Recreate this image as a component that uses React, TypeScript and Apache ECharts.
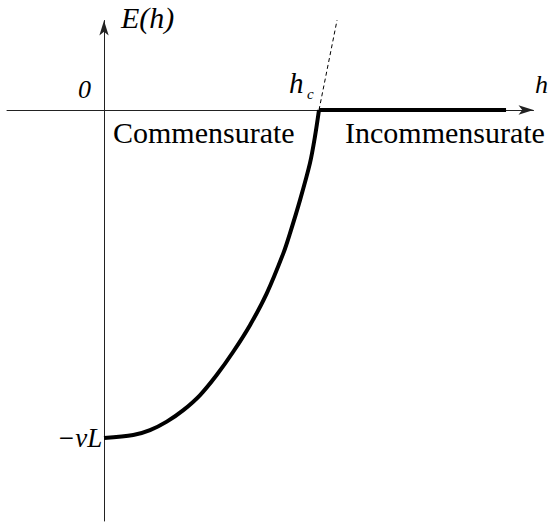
import React, { useEffect, useRef } from "react";
import * as echarts from "echarts";

// E(h) on the commensurate side: rises from -vL at h = 0 to zero at h = hc (= 1)
const commH = [0, 0.136, 0.214, 0.292, 0.369, 0.447, 0.524, 0.601, 0.679, 0.757, 0.834, 0.865, 0.912, 0.958, 0.981, 1.0];
const commE = [-1, -0.991, -0.976, -0.95, -0.915, -0.869, -0.808, -0.737, -0.656, -0.559, -0.437, -0.376, -0.274, -0.162, -0.082, 0];

// Incommensurate side: E(h) = 0 beyond hc
const incommH = [1, 1.87];
const incommE = [0, 0];

// Continuation of the commensurate branch past hc (dashed)
const tangentH = [1, 1.084];
const tangentE = [0, 0.274];

const pairs = (xs: number[], ys: number[]) => xs.map((x, i) => [x, ys[i]]);

const SERIF = "'Liberation Serif', 'Times New Roman', serif";

const label = (text: string, x: number, y: number, size: number, italic = true) => ({
  type: "text",
  x,
  y,
  style: {
    text,
    font: `${italic ? "italic " : ""}${size}px ${SERIF}`,
    fill: "#000",
    textVerticalAlign: "middle",
  },
});

export default function App() {
  const ref = useRef<HTMLDivElement>(null);

  useEffect(() => {
    document.body.style.margin = "0";
    if (!ref.current) return;
    const chart = echarts.init(ref.current, null, { renderer: "svg" });

    const axisLine = {
      onZero: true,
      symbol: ["none", "arrow"],
      symbolSize: [7, 15],
      lineStyle: { color: "#222", width: 1 },
    };

    chart.setOption({
      animation: false,
      backgroundColor: "#fff",
      grid: { left: 7, right: 18.5, top: 20.5, bottom: 2, containLabel: false, outerBoundsMode: "none" },
      xAxis: {
        type: "value",
        min: -0.4512,
        max: 1.9977,
        axisLine,
        axisTick: { show: false },
        axisLabel: { show: false },
        splitLine: { show: false },
      },
      yAxis: {
        type: "value",
        min: -1.253,
        max: 0.2729,
        axisLine,
        axisTick: { show: false },
        axisLabel: { show: false },
        splitLine: { show: false },
      },
      series: [
        {
          type: "line",
          data: pairs(commH, commE),
          smooth: 0.3,
          showSymbol: false,
          lineStyle: { color: "#000", width: 4 },
        },
        {
          type: "line",
          data: pairs(incommH, incommE),
          showSymbol: false,
          lineStyle: { color: "#000", width: 4 },
        },
        {
          type: "line",
          data: pairs(tangentH, tangentE),
          showSymbol: false,
          lineStyle: { color: "#000", width: 1, type: [4, 3] },
        },
      ],
      graphic: [
        label("E(h)", 121, 17, 30),
        label("0", 78, 89, 26),
        label("h", 289, 83, 29),
        label("c", 307, 94, 15),
        label("h", 535, 84, 26),
        label("Commensurate", 113, 132, 30, false),
        label("Incommensurate", 345, 132, 30, false),
        label("\u2212vL", 57, 438, 27),
      ],
    });

    return () => chart.dispose();
  }, []);

  return <div ref={ref} style={{ width: 552, height: 523 }} />;
}
